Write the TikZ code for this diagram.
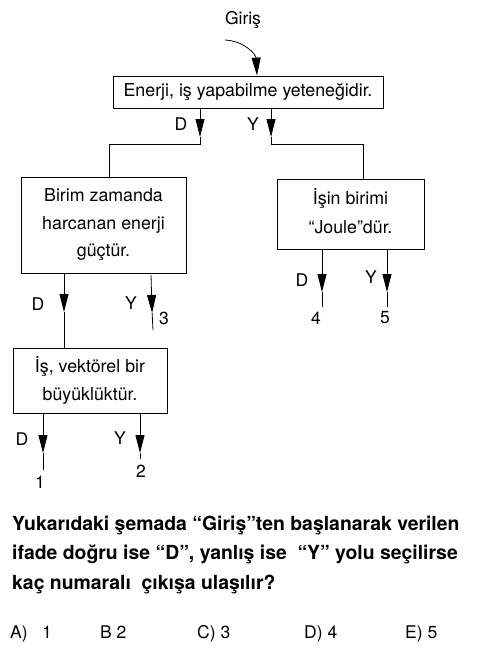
\documentclass[tikz,border=0pt]{standalone}
\usepackage{fontspec}
\setmainfont{TeX Gyre Heros}
\usetikzlibrary{arrows.meta}
\begin{document}
\begin{tikzpicture}[x=1pt,y=-1pt,
  box/.style={draw, line width=0.8pt, inner sep=0pt, align=center,
    font=\fontsize{17.8}{27.5}\selectfont},
  boxtxt/.style={inner sep=0pt, align=center, font=\fontsize{17.8}{28.5}\selectfont},
  lbl/.style={font=\fontsize{17.5}{20}\selectfont, inner sep=0pt},
  ln/.style={line width=0.8pt},
  tip/.style={line width=0.8pt, -{Triangle[length=18pt,width=9pt]}},
  qtxt/.style={font=\fontsize{19.4}{22}\bfseries\selectfont, inner sep=0pt, anchor=base west},
  ans/.style={font=\fontsize{17.5}{20}\selectfont, inner sep=0pt, anchor=base west}]
\useasboundingbox (0,0) rectangle (490,648);
\fill[white] (0,0) rectangle (490,648);

% entry
\node[lbl] (giris) at (243,20) {Giriş};
\coordinate (gs) at (225,40);

% boxes
\node[box, minimum width=270pt, minimum height=32pt] (b1) at (248,92) {Enerji, iş yapabilme yeteneğidir.};
\node[box, minimum width=165pt, minimum height=96pt] (b2) at (103.5,225) {Birim zamanda\\harcanan enerji\\güçtür.};
\node[box, minimum width=147pt, minimum height=70pt] (b3) at (350.5,214) {};
\node[boxtxt] (b3t) at (350.5,211) {İşin birimi\\“Joule”dür.};
\node[box, minimum width=154pt, minimum height=65pt] (b4) at (90,380.5) {İş, vektörel bir\\büyüklüktür.};

\draw[tip] (gs) .. controls (245,41) and (256,55) .. (b1.north -| 257,0);

% level 1 branches
\coordinate (d1t) at (200,137);
\coordinate (d1k) at (109,144);
\draw[tip] (b1.south -| d1t) -- (d1t);
\draw[ln] (d1t) -- (d1t |- d1k) -- (d1k) -- (b2.north -| d1k);
\node[lbl] (d1l) at (181,124) {D};

\coordinate (y1t) at (271,137);
\coordinate (y1k) at (363,144);
\draw[tip] (b1.south -| y1t) -- (y1t);
\draw[ln] (y1t) -- (y1t |- y1k) -- (y1k) -- (b3.north -| y1k);
\node[lbl] (y1l) at (253,124) {Y};

% box 2 exits
\coordinate (d2t) at (64,312);
\draw[tip] (b2.south -| d2t) -- (d2t);
\draw[ln] (d2t) -- (b4.north -| d2t);
\node[lbl] (d2l) at (38,304) {D};

\coordinate (y2s) at (151,275);
\coordinate (y2t) at (152.1,313);
\coordinate (y2e) at (153,330);
\draw[tip] (y2s) -- (y2t);
\draw[ln] (y2t) -- (y2e);
\node[lbl] (y2l) at (131,303) {Y};
\node[lbl] (o3) at (164,318) {3};

% box 3 exits
\coordinate (d3t) at (322,292);
\coordinate (d3e) at (322,307);
\draw[tip] (b3.south -| d3t) -- (d3t);
\draw[ln] (d3t) -- (d3e);
\node[lbl] (d3l) at (302,280) {D};
\node[lbl] (o4) at (316,318) {4};

\coordinate (y3t) at (387,292);
\coordinate (y3e) at (387,307);
\draw[tip] (b3.south -| y3t) -- (y3t);
\draw[ln] (y3t) -- (y3e);
\node[lbl] (y3l) at (371,277) {Y};
\node[lbl] (o5) at (385,318) {5};

% box 4 exits
\coordinate (d4t) at (43,453);
\coordinate (d4e) at (43,470);
\draw[tip] (b4.south -| d4t) -- (d4t);
\draw[ln] (d4t) -- (d4e);
\node[lbl] (d4l) at (22,439) {D};
\node[lbl] (o1) at (40,482) {1};

\coordinate (y4t) at (140,453);
\coordinate (y4e) at (140,459);
\draw[tip] (b4.south -| y4t) -- (y4t);
\draw[ln] (y4t) -- (y4e);
\node[lbl] (y4l) at (120,438) {Y};
\node[lbl] (o2) at (141,471) {2};

% question
\node[qtxt] (q1) at (12,530) {Yukarıdaki şemada “Giriş”ten başlanarak verilen};
\node[qtxt] (q2) at (12,559.5) {ifade doğru ise “D”, yanlış ise \ “Y” yolu seçilirse};
\node[qtxt] (q3) at (12,589) {kaç numaralı \ çıkışa ulaşılır?};

% answers
\node[ans] (aA) at (10,638) {A)};
\node[ans] (aA1) at (42,638) {1};
\node[ans] (aB) at (100,638) {B 2};
\node[ans] (aC) at (197,638) {C) 3};
\node[ans] (aD) at (304,638) {D) 4};
\node[ans] (aE) at (405,638) {E) 5};
\end{tikzpicture}
\end{document}
